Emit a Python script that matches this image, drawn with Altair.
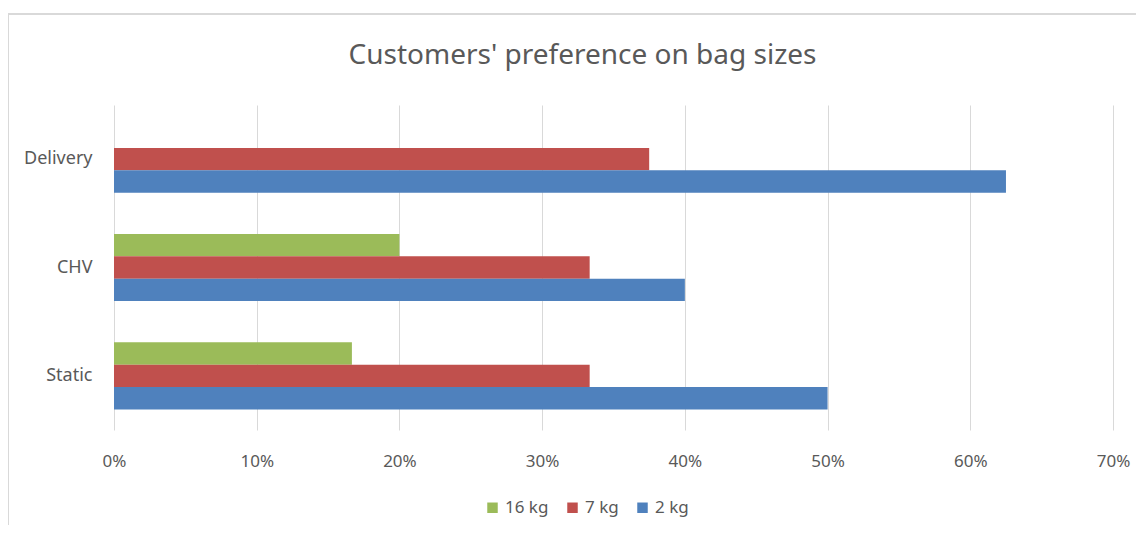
import altair as alt
import pandas as pd

categories = ["Delivery", "CHV", "Static"]
series = ["16 kg", "7 kg", "2 kg"]
v16 = [0.0, 0.20, 0.1667]
v7 = [0.375, 0.3333, 0.3333]
v2 = [0.625, 0.40, 0.50]
colors = ["#9BBB59", "#C0504D", "#4F81BD"]
ticks = [0, 0.1, 0.2, 0.3, 0.4, 0.5, 0.6, 0.7]

rows = []
for i, c in enumerate(categories):
    for s, vals in zip(series, [v16, v7, v2]):
        rows.append({"cat": c, "size": s, "value": vals[i]})
df = pd.DataFrame(rows)

FONT = "Noto Sans"
GRAY = "#595959"

bars = alt.Chart(df).mark_bar().encode(
    x=alt.X("value:Q",
            scale=alt.Scale(domain=[0, 0.7], nice=False),
            axis=alt.Axis(values=ticks, format=".0%", title=None, domain=False, ticks=False,
                          grid=True, gridColor="#D9D9D9", gridWidth=1, labelFlush=False,
                          labelFont=FONT, labelFontSize=17, labelColor=GRAY, labelPadding=23)),
    y=alt.Y("cat:N", sort=categories,
            scale=alt.Scale(paddingInner=0.38, paddingOuter=0.19),
            axis=alt.Axis(title=None, domain=False, ticks=False, labelFont=FONT,
                          labelFontSize=18, labelColor=GRAY, labelPadding=22)),
    yOffset=alt.YOffset("size:N", sort=series),
    color=alt.Color("size:N",
                    scale=alt.Scale(domain=series, range=colors),
                    legend=alt.Legend(title=None, orient="none", direction="horizontal",
                                      legendX=370, legendY=394, symbolType="square",
                                      symbolSize=110, symbolStrokeWidth=0,
                                      labelFont=FONT, labelFontSize=17, labelColor=GRAY,
                                      columnPadding=15, labelOffset=4)),
)

frame = alt.Chart(df).mark_rule(color="#D9D9D9", strokeWidth=2).encode(
    x=alt.value(-106), x2=alt.value(1040), y=alt.value(-91))
frame2 = alt.Chart(df).mark_rule(color="#D9D9D9", strokeWidth=2).encode(
    x=alt.value(-106), y=alt.value(-91), y2=alt.value(432))

chart = alt.layer(frame, frame2, bars).properties(
    width=999, height=325,
    autosize=alt.AutoSizeParams(type="none"),
    padding={"left": 106, "top": 97, "right": 23, "bottom": 95},
    title=alt.TitleParams("Customers' preference on bag sizes", font=FONT, fontSize=28,
                          fontWeight="normal", color=GRAY, anchor="middle", dx=-31, offset=-57),
).configure_view(stroke=None)

chart.save("out.html", embed_options={"renderer": "svg", "actions": False})
